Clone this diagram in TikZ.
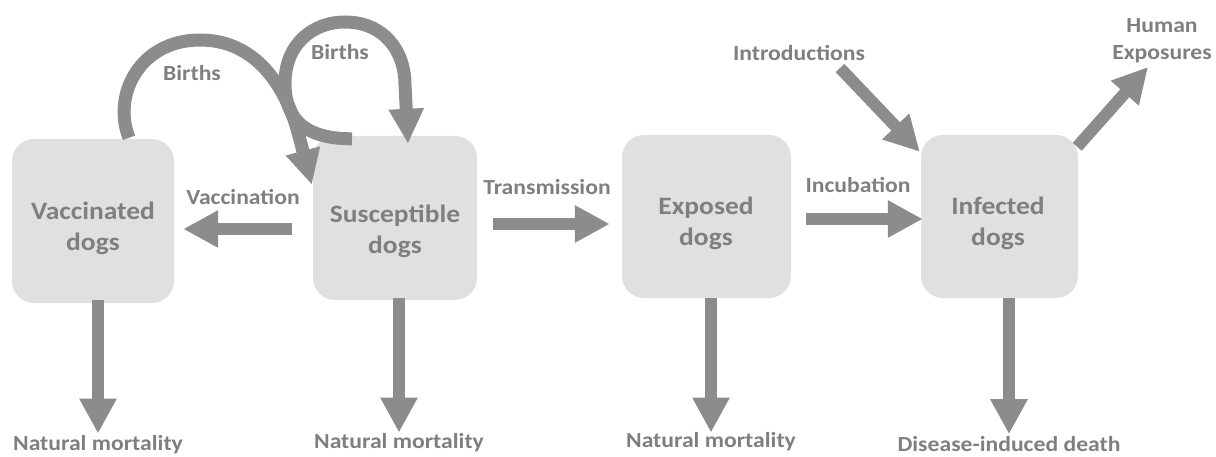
\documentclass[tikz,border=0pt]{standalone}
\usepackage{fontspec}
\setmainfont{Carlito}[FakeStretch=1.1]
\usetikzlibrary{arrows.meta}
\definecolor{boxfill}{HTML}{E0E0E0}
\definecolor{arrowgray}{HTML}{8C8C8C}
\definecolor{textgray}{HTML}{7F7F7F}
\begin{document}
\begin{tikzpicture}[x=1pt,y=-1pt,
  compbox/.style={fill=boxfill, draw=none, rounded corners=22pt, inner sep=0pt},
  boxtext/.style={text=textgray, font=\bfseries\fontsize{25}{31}\selectfont, align=center, inner sep=0pt},
  lbl/.style={text=textgray, font=\bfseries\fontsize{21.5}{27}\selectfont, align=center, inner sep=0pt},
  blk/.style={draw=arrowgray, line width=12pt, -{Triangle[width=35pt,length=35pt]}},
  blkc/.style={draw=arrowgray, line width=13pt, -{Triangle[width=33pt,length=35pt]}}
]
\useasboundingbox (0,0) rectangle (1216,457);

% compartments
\node[compbox, minimum width=162pt, minimum height=164pt] (V) at (93,221) {};
\node[compbox, minimum width=164pt, minimum height=164pt] (S) at (395,218) {};
\node[compbox, minimum width=169pt, minimum height=163pt] (E) at (706.5,216.5) {};
\node[compbox, minimum width=157pt, minimum height=163pt] (I) at (999.5,216.5) {};

\node[boxtext] (Vt) at (93,228) {Vaccinated\\dogs};
\node[boxtext] (St) at (395,231) {Susceptible\\dogs};
\node[boxtext] (Et) at (706,223) {Exposed\\dogs};
\node[boxtext] (It) at (998,223) {Infected\\dogs};

% labels
\node[lbl] (vacl) at (243,197) {Vaccination};
\node[lbl] (trl) at (547,187) {Transmission};
\node[lbl] (incl) at (858,185) {Incubation};
\node[lbl] (intro) at (799,53) {Introductions};
\node[lbl] (hum) at (1162,41) {Human\\Exposures};
\node[lbl] (b1) at (192,73) {Births};
\node[lbl] (b2) at (340,52) {Births};
\node[lbl] (VM) at (98,445) {Natural mortality};
\node[lbl] (SM) at (399,443) {Natural mortality};
\node[lbl] (EM) at (711,442) {Natural mortality};
\node[lbl] (IM) at (1009,444) {Disease-induced death};

% horizontal flows
\coordinate (vacY) at (0,229);
\coordinate (trY) at (0,224);
\coordinate (incY) at (0,219);
\draw[blk, shorten <=21pt, shorten >=9pt] (S.west |- vacY) -- (V.east |- vacY);
\draw[blk, shorten <=16pt, shorten >=12pt] (S.east |- trY) -- (E.west |- trY);
\draw[blk, shorten <=15pt, shorten >=-2pt] (E.east |- incY) -- (I.west |- incY);

% mortality flows
\draw[blk, shorten <=-3pt, shorten >=2pt] (V.south -| VM.north) -- (VM.north);
\draw[blk, shorten <=-2pt, shorten >=1pt] (S.south -| SM.north) -- (SM.north);
\draw[blk, shorten <=0pt, shorten >=0pt] (E.south -| EM.north) -- (EM.north);
\draw[blk, shorten <=0pt, shorten >=2pt] (I.south -| IM.north) -- (IM.north);

% introductions and human exposures
\draw[blk] ([xshift=41pt,yshift=-15pt]intro.center) -- ([xshift=-1pt,yshift=-17pt]I.north west);
\draw[blk] ([xshift=-1pt,yshift=-12pt]I.north east) -- ([xshift=-14pt,yshift=-26pt]hum.center);

% births
\draw[blkc] ([xshift=36pt,yshift=1pt]V.north) .. controls +(-17,-43) and +(-60,0) .. (200,40)
  .. controls +(58,0) and +(-12,-50) .. (300,140) -- ([xshift=-1pt,yshift=-49pt]S.north west);
\draw[blkc] ([xshift=-43pt,yshift=-3pt]S.north) .. controls +(-52,0) and +(0,32) .. (285,83)
  .. controls +(0,-38) and +(-33,0) .. (345,22) .. controls +(38,0) and +(0,-35) .. (405,85)
  -- ([xshift=13pt,yshift=-8pt]S.north);
\end{tikzpicture}
\end{document}
